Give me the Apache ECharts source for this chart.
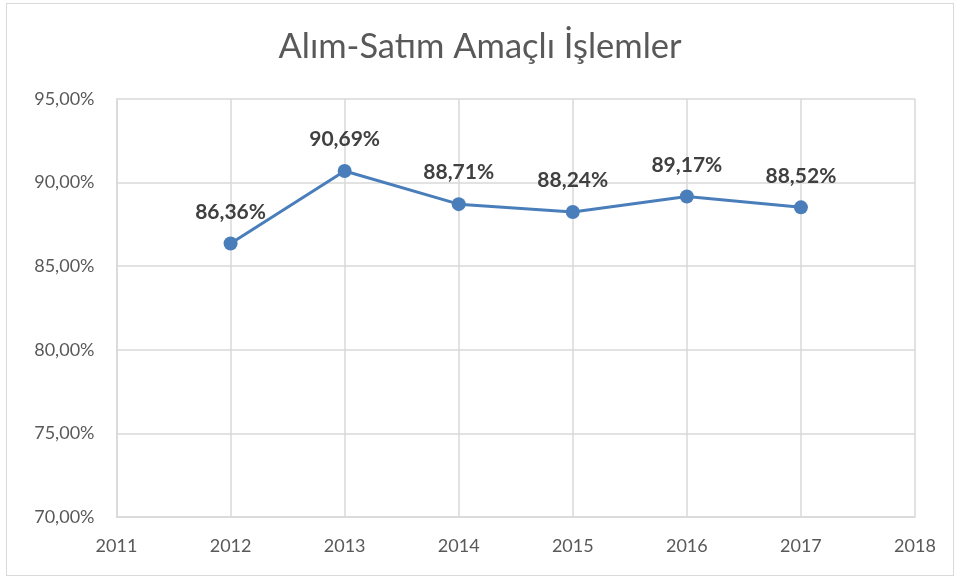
<!DOCTYPE html>
<html>
<head>
<meta charset="utf-8">
<script src="https://cdn.jsdelivr.net/npm/echarts@6/dist/echarts.min.js"></script>
<style>
html, body { margin: 0; padding: 0; background: #fff; }
#frame {
    position: absolute; left: 6px; top: 3px; width: 948px; height: 573px;
    border: 1.5px solid #d9d9d9; box-sizing: border-box;
}
#chart { position: absolute; left: 0; top: 0; width: 960px; height: 581px; }
</style>
</head>
<body>
<div id="frame"></div>
<div id="chart"></div>
<script>
// yıllar ve oranlar (%)
var years = [2012, 2013, 2014, 2015, 2016, 2017];
var values = [86.36, 90.69, 88.71, 88.24, 89.17, 88.52];
var yTicks = [70, 75, 80, 85, 90, 95];

function pct(v) {
    return v.toFixed(2).replace('.', ',') + '%';
}

var chart = echarts.init(document.getElementById('chart'));
chart.setOption({
    animation: false,
    title: {
        text: 'Alım-Satım Amaçlı İşlemler',
        left: 'center',
        top: 24,
        textStyle: { fontFamily: 'Lato', fontSize: 34.5, fontWeight: 'normal', color: '#595959' }
    },
    grid: { left: 116.5, right: 45, top: 99, bottom: 64 },
    xAxis: {
        type: 'value',
        min: 2011,
        max: 2018,
        interval: 1,
        axisLine: { show: true, lineStyle: { color: '#d9d9d9', width: 1.5 } },
        axisTick: { show: false },
        axisLabel: {
            margin: 20,
            fontFamily: 'Lato', fontSize: 18, color: '#595959',
            formatter: function (v) { return String(v); }
        },
        splitLine: { show: true, lineStyle: { color: '#d9d9d9', width: 1.5 } }
    },
    yAxis: {
        type: 'value',
        min: yTicks[0],
        max: yTicks[yTicks.length - 1],
        interval: 5,
        axisLine: { show: true, lineStyle: { color: '#d9d9d9', width: 1.5 } },
        axisTick: { show: false },
        axisLabel: {
            margin: 22,
            fontFamily: 'Lato', fontSize: 18, color: '#595959',
            formatter: pct
        },
        splitLine: { show: true, lineStyle: { color: '#d9d9d9', width: 1.5 } }
    },
    series: [{
        type: 'line',
        data: years.map(function (y, i) { return [y, values[i]]; }),
        symbol: 'circle',
        symbolSize: 14,
        lineStyle: { color: '#4a7ebb', width: 3 },
        itemStyle: { color: '#4a7ebb' },
        label: {
            show: true,
            position: 'top',
            distance: 14,
            fontFamily: 'Lato', fontSize: 21, fontWeight: 'bold', color: '#404040',
            formatter: function (p) { return pct(p.value[1]); }
        }
    }]
});
</script>
</body>
</html>
